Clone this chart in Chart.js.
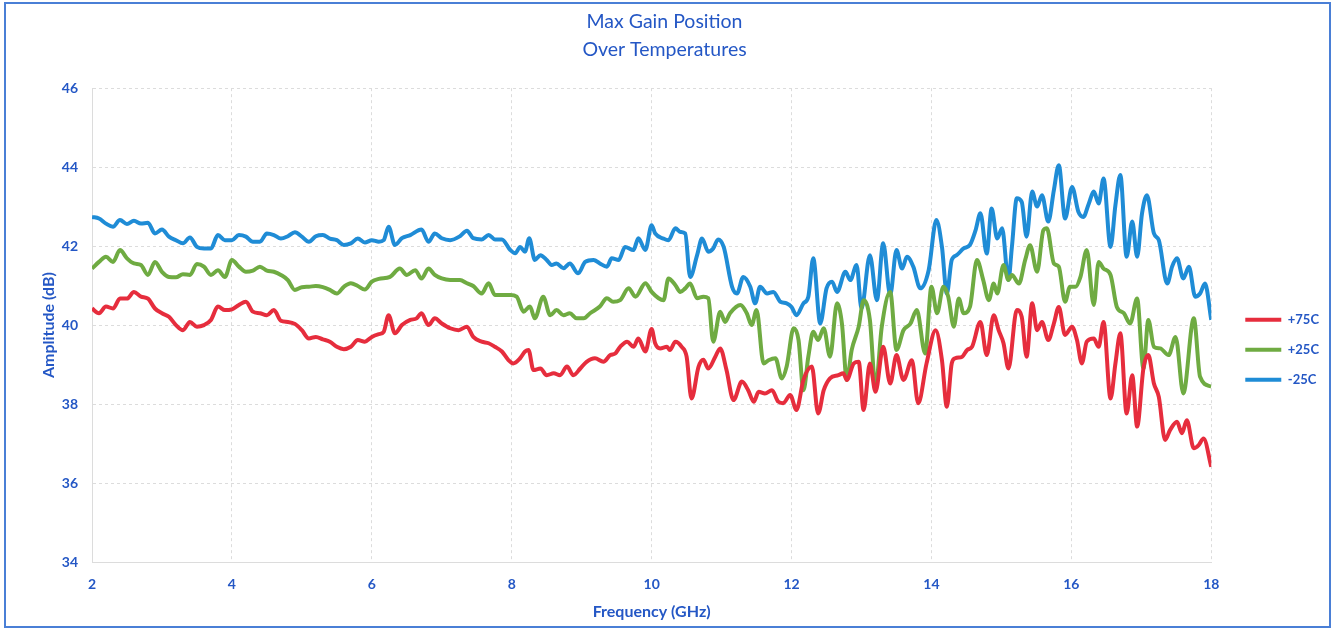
<!DOCTYPE html>
<html>
<head>
<meta charset="utf-8">
<script src="https://cdn.jsdelivr.net/npm/chart.js@4.4.1/dist/chart.umd.min.js"></script>
<style>
  html, body { margin: 0; padding: 0; background: #ffffff; }
  #wrap { position: relative; width: 1335px; height: 632px; }
  #frame { position: absolute; left: 4px; top: 2px; width: 1327px; height: 626px; border: 2px solid #4a7fd6; box-sizing: border-box; pointer-events: none; }
  canvas { display: block; }
</style>
</head>
<body>
<div id="wrap">
  <canvas id="c" width="1335" height="632"></canvas>
  <div id="frame"></div>
</div>
<script>
// ---- data ----
const chartTitle = ['Max Gain Position', 'Over Temperatures'];
const xAxisTitle = 'Frequency (GHz)';
const yAxisTitle = 'Amplitude (dB)';
const seriesLabels = ['+75C', '+25C', '-25C'];
const xTicks = [2, 4, 6, 8, 10, 12, 14, 16, 18];
const yTicks = [34, 36, 38, 40, 42, 44, 46];

const freqP75 = [2.0,2.1,2.2,2.3,2.4,2.5,2.6,2.7,2.8,2.9,3.0,3.1,3.2,3.3,3.4,3.5,3.6,3.7,3.8,3.9,4.0,4.1,4.2,4.3,4.4,4.5,4.6,4.7,4.8,4.9,5.0,5.1,5.2,5.3,5.4,5.5,5.6,5.7,5.8,5.9,6.0,6.1,
  6.17,6.24,6.33,6.43,6.55,6.64,6.71,6.81,6.90,7.00,7.12,7.24,7.36,7.45,7.57,7.67,7.76,7.86,7.95,8.02,8.12,8.19,8.24,8.31,8.41,8.50,8.60,8.69,8.79,8.88,8.98,9.07,9.19,9.31,9.41,9.48,9.55,9.65,9.74,9.81,9.91,10.00,
  10.05,10.12,10.22,10.26,10.34,10.43,10.50,10.57,10.67,10.74,10.81,10.91,10.98,11.07,11.17,11.29,11.38,11.46,11.53,11.62,11.72,11.81,11.88,11.98,12.07,12.17,12.29,12.38,12.46,12.55,12.67,12.74,12.79,12.89,12.96,13.03,13.12,13.20,13.31,13.41,13.50,13.60,13.72,13.81,13.93,
  14.06,14.15,14.22,14.29,14.34,14.44,14.51,14.58,14.70,14.79,14.89,14.96,15.03,15.10,15.22,15.29,15.36,15.44,15.51,15.58,15.67,15.75,15.82,15.91,16.01,16.08,16.15,16.22,16.32,16.39,16.46,16.56,16.63,16.70,16.79,16.87,16.94,17.03,17.10,17.18,17.25,17.34,17.41,17.51,17.58,17.65,17.75,17.82,17.89,18.00];
const ampP75 = [40.42,40.30,40.47,40.42,40.67,40.67,40.84,40.72,40.67,40.42,40.30,40.21,40.00,39.87,40.08,39.96,40.00,40.13,40.47,40.38,40.40,40.51,40.59,40.34,40.30,40.25,40.38,40.11,40.08,40.03,39.87,39.66,39.70,39.64,39.58,39.45,39.39,39.45,39.62,39.58,39.70,39.77,
  39.83,40.25,39.79,40.00,40.13,40.17,40.30,40.00,40.17,40.04,39.92,39.87,39.96,39.70,39.58,39.54,39.45,39.33,39.12,39.03,39.16,39.33,39.37,38.86,38.90,38.73,38.78,38.73,38.95,38.73,38.90,39.07,39.16,39.07,39.24,39.28,39.45,39.58,39.45,39.66,39.33,39.90,
  39.54,39.41,39.45,39.37,39.58,39.45,39.20,38.14,38.94,39.12,38.90,39.20,39.41,38.86,38.10,38.57,38.35,38.06,38.31,38.27,38.35,38.06,38.02,38.23,37.85,38.61,38.95,37.76,38.35,38.65,38.73,38.78,38.61,39.03,39.07,37.85,39.03,38.31,39.45,38.52,39.24,38.61,39.11,38.02,39.03,
  39.87,39.11,37.93,39.03,39.16,39.20,39.37,39.45,40.08,39.24,40.25,39.87,39.54,38.90,40.38,40.21,39.20,40.55,39.87,40.08,39.62,40.04,40.46,39.75,39.96,39.62,39.03,39.58,39.66,39.45,40.08,38.14,39.03,39.79,37.76,38.73,37.43,38.90,39.24,38.52,38.18,37.09,37.34,37.55,37.26,37.59,36.88,36.96,37.13,36.41];

const freqP25 = [2.0,2.1,2.2,2.3,2.4,2.5,2.6,2.7,2.8,2.9,3.0,3.1,3.2,3.3,3.4,3.5,3.6,3.7,3.8,3.9,4.0,4.1,4.2,4.3,4.4,4.5,4.6,4.7,4.8,4.9,5.0,5.1,5.2,5.3,5.4,5.5,5.6,5.7,5.8,5.9,6.0,6.1,
  6.26,6.40,6.50,6.62,6.71,6.81,6.90,7.00,7.12,7.26,7.36,7.45,7.57,7.67,7.76,7.88,7.98,8.07,8.17,8.26,8.33,8.45,8.55,8.64,8.74,8.83,8.93,9.03,9.12,9.26,9.36,9.45,9.55,9.67,9.77,9.91,10.00,
  10.10,10.17,10.24,10.34,10.41,10.48,10.55,10.65,10.74,10.81,10.88,10.98,11.05,11.12,11.27,11.36,11.43,11.50,11.60,11.67,11.77,11.86,11.93,12.03,12.10,12.17,12.24,12.31,12.38,12.46,12.55,12.65,12.72,12.79,12.86,12.96,13.03,13.12,13.20,13.29,13.41,13.50,13.60,13.70,13.79,13.91,
  14.00,14.08,14.17,14.24,14.32,14.39,14.46,14.55,14.65,14.74,14.82,14.89,14.94,15.03,15.10,15.15,15.25,15.34,15.41,15.51,15.60,15.65,15.75,15.82,15.91,15.98,16.06,16.13,16.22,16.32,16.39,16.46,16.56,16.65,16.75,16.84,16.94,17.03,17.10,17.18,17.27,17.39,17.49,17.60,17.75,17.84,18.00];
const ampP25 = [41.43,41.60,41.73,41.60,41.90,41.69,41.56,41.52,41.27,41.60,41.35,41.22,41.21,41.29,41.27,41.55,41.48,41.27,41.39,41.22,41.65,41.48,41.35,41.38,41.48,41.38,41.35,41.27,41.14,40.89,40.96,40.97,40.99,40.96,40.89,40.80,40.97,41.06,40.99,40.90,41.10,41.17,
  41.22,41.43,41.27,41.39,41.18,41.43,41.27,41.18,41.14,41.14,41.06,40.99,40.80,41.06,40.76,40.76,40.76,40.72,40.34,40.47,40.17,40.72,40.25,40.38,40.25,40.30,40.17,40.17,40.30,40.47,40.68,40.59,40.63,40.93,40.72,41.06,40.84,
  40.68,40.63,41.18,41.01,40.84,40.93,41.05,40.68,40.72,40.68,39.58,40.34,40.08,40.30,40.51,40.30,40.00,40.38,39.03,39.11,39.16,38.65,38.95,39.92,39.62,38.35,39.20,39.83,39.62,39.92,39.20,40.55,40.04,38.61,39.37,39.96,40.63,40.13,38.44,39.96,40.84,39.37,39.87,40.04,40.38,39.28,
  40.97,40.30,40.97,40.72,39.96,40.67,40.30,40.46,41.65,41.14,40.63,41.05,40.80,41.52,41.14,41.27,41.05,41.65,42.02,41.35,42.40,42.45,41.56,41.48,40.59,40.97,40.97,41.22,41.90,40.51,41.60,41.43,41.27,40.46,40.30,40.04,40.67,38.90,40.13,39.45,39.41,39.24,39.70,38.27,40.17,38.69,38.44];

const freqM25 = [2.0,2.1,2.2,2.3,2.4,2.5,2.6,2.7,2.8,2.9,3.0,3.1,3.2,3.3,3.4,3.5,3.6,3.7,3.8,3.9,4.0,4.1,4.2,4.3,4.4,4.5,4.6,4.7,4.8,4.9,5.0,5.1,5.2,5.3,5.4,5.5,5.6,5.7,5.8,5.9,6.0,6.1,
  6.17,6.24,6.33,6.43,6.55,6.71,6.81,6.90,7.00,7.12,7.26,7.36,7.45,7.57,7.67,7.76,7.86,7.98,8.05,8.12,8.19,8.25,8.33,8.41,8.50,8.57,8.64,8.74,8.83,8.95,9.05,9.17,9.26,9.36,9.43,9.53,9.62,9.74,9.81,9.91,10.00,
  10.05,10.17,10.24,10.34,10.41,10.48,10.55,10.65,10.72,10.81,10.88,10.95,11.03,11.15,11.22,11.31,11.41,11.48,11.55,11.65,11.74,11.84,11.93,12.00,12.07,12.17,12.24,12.31,12.41,12.50,12.58,12.65,12.77,12.84,12.93,13.00,13.12,13.22,13.31,13.41,13.50,13.58,13.65,13.74,13.84,13.96,
  14.07,14.15,14.22,14.29,14.36,14.46,14.55,14.63,14.70,14.79,14.86,14.94,15.01,15.10,15.15,15.22,15.29,15.36,15.44,15.51,15.58,15.67,15.75,15.82,15.91,16.01,16.10,16.17,16.25,16.32,16.39,16.46,16.56,16.63,16.70,16.79,16.87,16.94,17.01,17.08,17.18,17.25,17.37,17.44,17.51,17.60,17.68,17.77,17.84,17.91,18.00];
const ampM25 = [42.74,42.70,42.57,42.49,42.66,42.56,42.64,42.57,42.59,42.32,42.42,42.24,42.15,42.07,42.22,41.98,41.94,41.94,42.28,42.15,42.15,42.28,42.24,42.11,42.11,42.32,42.28,42.19,42.25,42.35,42.24,42.11,42.25,42.28,42.19,42.15,42.03,42.07,42.19,42.09,42.15,42.11,
  42.15,42.49,42.03,42.20,42.28,42.42,42.11,42.32,42.20,42.15,42.25,42.39,42.20,42.17,42.28,42.17,42.17,41.90,41.82,41.98,41.86,42.20,41.65,41.77,41.65,41.52,41.56,41.44,41.56,41.31,41.60,41.65,41.56,41.48,41.69,41.65,41.98,41.90,42.20,41.90,42.53,
  42.32,42.19,42.15,42.45,42.36,42.32,41.22,41.77,42.19,41.86,41.94,42.17,41.98,40.97,40.80,41.22,40.97,40.55,40.97,40.80,40.84,40.59,40.55,40.46,40.25,40.55,40.72,41.69,40.04,40.93,41.10,40.84,41.35,41.14,41.52,40.42,41.77,40.63,42.07,40.76,41.90,41.43,41.73,41.48,40.93,41.39,
  42.66,41.98,40.80,41.65,41.77,41.94,42.03,42.40,42.83,41.81,42.95,42.19,42.45,41.14,41.98,43.21,43.12,42.24,43.38,43.00,43.29,42.62,43.42,44.05,42.70,43.50,42.87,42.74,43.08,43.38,43.08,43.71,41.98,43.04,43.80,41.73,42.62,41.73,42.83,43.29,42.32,42.15,41.05,41.48,41.69,41.18,41.48,40.72,40.80,41.05,40.13];

const seriesColors = ['#e62d3d', '#6fab42', '#1f8cd6'];

// ---- chart ----
const textBlue = '#2457c5';
const font = 'Lato, "Open Sans", sans-serif';
function pts(xs, ys) { return xs.map((x, i) => ({ x: x, y: ys[i] })); }
const seriesData = [pts(freqP75, ampP75), pts(freqP25, ampP25), pts(freqM25, ampM25)];

new Chart(document.getElementById('c'), {
  type: 'line',
  data: {
    datasets: seriesLabels.map((lab, i) => ({
      label: lab,
      data: seriesData[i],
      borderColor: seriesColors[i],
      backgroundColor: seriesColors[i],
      borderWidth: 4,
      pointRadius: 0,
      cubicInterpolationMode: 'monotone',
      fill: false
    }))
  },
  options: {
    responsive: false,
    animation: false,
    layout: { padding: { left: 0, right: 6, top: 0, bottom: 10 } },
    plugins: {
      title: {
        display: true,
        text: chartTitle,
        color: textBlue,
        font: { family: font, size: 19.5, weight: 'normal', lineHeight: 1.44 },
        padding: { top: 8, bottom: 24 }
      },
      legend: {
        position: 'right',
        align: 'center',
        title: {
          display: true,
          text: ' ',
          font: { family: font, size: 13, lineHeight: 1.2 },
          padding: { top: 0, bottom: 62 }
        },
        labels: {
          usePointStyle: true,
          pointStyle: 'line',
          pointStyleWidth: 36,
          color: textBlue,
          font: { family: font, size: 13, weight: 'bold' },
          padding: 17
        }
      },
      tooltip: { enabled: false }
    },
    scales: {
      x: {
        type: 'linear',
        min: xTicks[0],
        max: xTicks[xTicks.length - 1],
        afterBuildTicks: s => { s.ticks = xTicks.map(v => ({ value: v })); },
        afterFit: s => { s.height = 60; },
        grid: { color: '#dcdcdc', drawTicks: false },
        border: { display: true, color: '#dcdcdc', dash: [3, 3] },
        ticks: { color: textBlue, font: { family: font, size: 14, weight: 'bold' }, padding: 14 },
        title: { display: true, text: xAxisTitle, color: textBlue, font: { family: font, size: 16, weight: 'bold' }, padding: { top: 4, bottom: 1 } }
      },
      y: {
        min: yTicks[0],
        max: yTicks[yTicks.length - 1],
        afterBuildTicks: s => { s.ticks = yTicks.map(v => ({ value: v })); },
        afterFit: s => { s.width = 92; },
        grid: { color: '#dcdcdc', drawTicks: false },
        border: { display: true, color: '#dcdcdc', dash: [3, 3] },
        ticks: { color: textBlue, font: { family: font, size: 14, weight: 'bold' }, padding: 14 },
        title: { display: true, text: yAxisTitle, color: textBlue, font: { family: font, size: 16, weight: 'bold' }, padding: { top: 39, bottom: 4 } }
      },
      y2: {
        position: 'right',
        display: true,
        min: 0, max: 1,
        grid: { display: false, drawTicks: false },
        border: { display: false },
        ticks: { display: false },
        afterFit: s => { s.width = 17; }
      }
    }
  }
});
</script>
</body>
</html>
